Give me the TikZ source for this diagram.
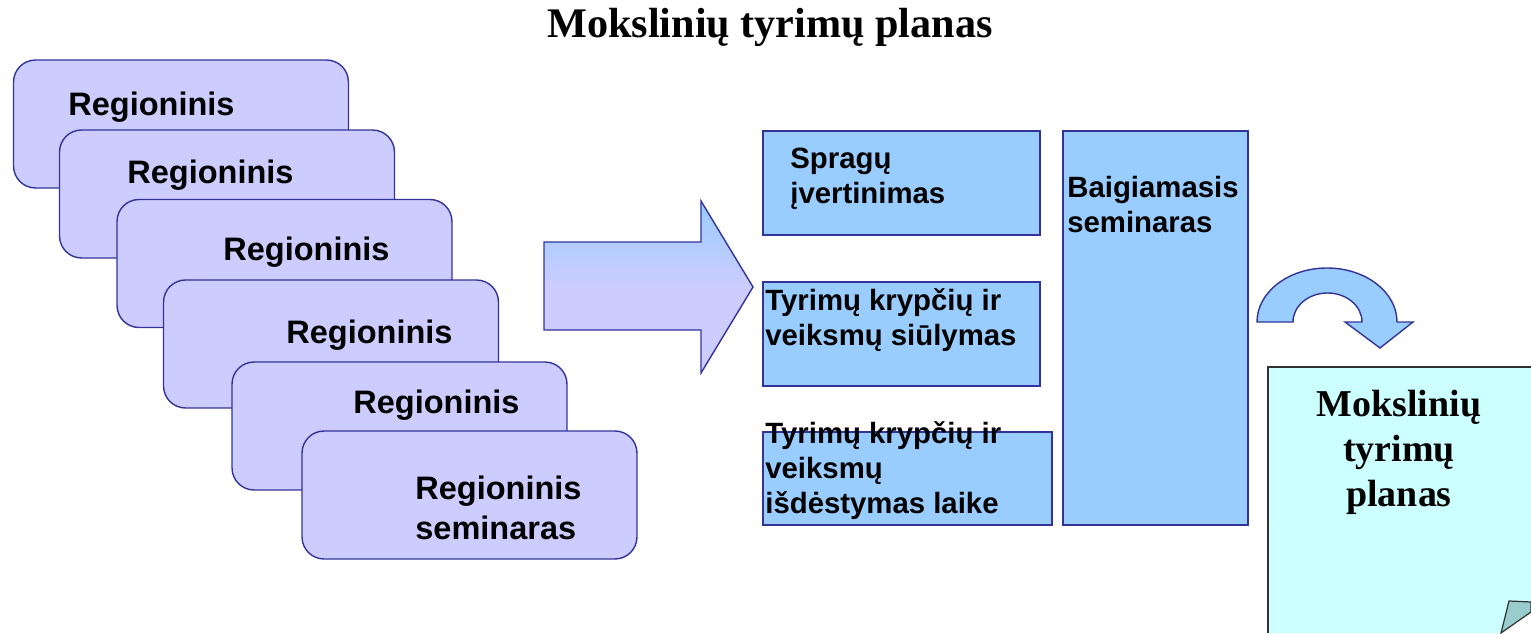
\documentclass[tikz,border=0pt]{standalone}
\usepackage{fontspec}
\setmainfont{Liberation Serif}
\newfontfamily\arialf{Liberation Sans}
\definecolor{lavender}{HTML}{CCCCFF}
\definecolor{skyblue}{HTML}{99CCFF}
\definecolor{navyline}{HTML}{333399}
\definecolor{paper}{HTML}{CCFFFF}
\definecolor{foldcol}{HTML}{99CCCC}
\tikzset{
	regbox/.style={draw=navyline, fill=lavender, line width=0.8pt, rounded corners=0.44cm,
		minimum width=6.7cm, minimum height=2.56cm},
	regtext/.style={anchor=west, inner sep=0pt, align=left,
		font=\arialf\bfseries\fontsize{18.5}{22.8}\selectfont},
	stagebox/.style={draw=navyline, fill=skyblue, line width=0.8pt, inner sep=0pt},
	stagetext/.style={anchor=west, inner sep=0pt, align=left,
		font=\arialf\bfseries\fontsize{16.7}{19.9}\selectfont},
	plantext/.style={inner sep=0pt, align=center,
		font=\bfseries\fontsize{21.6}{25.6}\selectfont},
}

\begin{document}
\begin{tikzpicture}[x=0.02cm, y=0.02cm]
\useasboundingbox (0,0) rectangle (1531,633);
\clip (0,0) rectangle (1531,633);

% title
\node[font=\bfseries\fontsize{24}{28}\selectfont, inner sep=0pt] (title) at (770,606) {Mokslinių tyrimų planas};

% regional seminars
\node[regbox] (reg1) at (181,509) {};
\node[regtext] (regt1) at (68,526) {Regioninis};
\node[regbox] (reg2) at (227,439) {};
\node[regtext] (regt2) at (127,458) {Regioninis};
\node[regbox] (reg3) at (284.5,369.5) {};
\node[regtext] (regt3) at (223,381) {Regioninis};
\node[regbox] (reg4) at (331,289) {};
\node[regtext] (regt4) at (286,298) {Regioninis};
\node[regbox] (reg5) at (399.5,207) {};
\node[regtext] (regt5) at (353,228) {Regioninis};
\node[regbox] (reg6) at (469.5,138) {};
\node[regtext] (regt6) at (415,125) {Regioninis\\seminaras};

% block arrow
\shade[top color=skyblue, bottom color=lavender, middle color=lavender]
	(544,303) -- (544,391) -- (701,391) -- (701,432) -- (753,346) -- (701,260) -- (701,303) -- cycle;
\draw[navyline, line width=0.8pt]
	(544,303) -- (544,391) -- (701,391) -- (701,432) -- (753,346) -- (701,260) -- (701,303) -- cycle;

% stages
\node[stagebox, minimum width=5.54cm, minimum height=2.08cm] (gap) at (901.5,450) {};
\node[stagetext] (gapt) at (790,454) {Spragų\\įvertinimas};
\node[stagebox, minimum width=5.54cm, minimum height=2.08cm] (prop) at (901.5,299) {};
\node[stagetext] (propt) at (765,312.5) {Tyrimų krypčių ir\\veiksmų siūlymas};
\node[stagebox, minimum width=5.78cm, minimum height=1.86cm] (time) at (907.5,154.5) {};
\node[stagetext] (timet) at (765,162) {Tyrimų krypčių ir\\veiksmų\\išdėstymas laike};
\node[stagebox, minimum width=3.7cm, minimum height=7.88cm] (final) at (1155.5,305) {};
\node[stagetext] (finalt) at (1067,428.5) {Baigiamasis\\seminaras};

% curved arrow
\draw[navyline, fill=skyblue, line width=0.8pt]
	(1257,311) arc[start angle=180, end angle=0, x radius=70, y radius=54]
	-- (1413,311) -- (1380,285) -- (1345,311) -- (1362,311)
	arc[start angle=0, end angle=180, x radius=34.5, y radius=29] -- cycle;

% plan document
\fill[paper] (1268,0) -- (1268,266) -- (1540,266) -- (1540,21) -- (1531,21) -- (1501,0) -- cycle;
\draw[black!80, line width=0.9pt] (1268,0) -- (1268,266) -- (1540,266);
\draw[black!80, fill=foldcol, line width=0.7pt] (1501,0) -- (1509,32) -- (1531,31) -- (1531,21) -- cycle;
\node[plantext] (plan) at (1399,181) {Mokslinių\\tyrimų\\planas};
\end{tikzpicture}
\end{document}
